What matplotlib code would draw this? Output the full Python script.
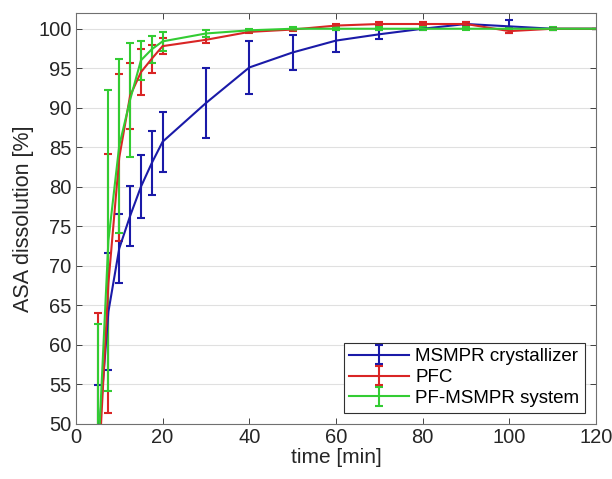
import matplotlib
matplotlib.use("Agg")
import matplotlib.pyplot as plt

plt.rcParams['font.family'] = ['Liberation Sans', 'DejaVu Sans']

time = [5, 7.5, 10, 12.5, 15, 17.5, 20, 30, 40, 50, 60, 70, 80, 90, 100, 110, 120]

msmpr = [46.5, 64.2, 72.2, 76.3, 80.0, 83.0, 85.7, 90.6, 95.1, 97.0, 98.5, 99.3, 100.0, 100.6, 100.3, 100.0, 100.0]
msmpr_err = [8.4, 7.4, 4.4, 3.8, 4.0, 4.0, 3.8, 4.4, 3.4, 2.2, 1.4, 0.6, 0.2, 0.3, 0.8, 0.1, 0.0]

pfc = [41.6, 67.8, 83.7, 91.5, 94.5, 96.2, 97.8, 98.6, 99.6, 99.9, 100.4, 100.6, 100.6, 100.6, 99.7, 100.0, 100.0]
pfc_err = [22.4, 16.4, 10.6, 4.2, 2.9, 1.8, 1.0, 0.4, 0.2, 0.2, 0.2, 0.2, 0.2, 0.2, 0.2, 0.1, 0.0]

pfmsmpr = [44.2, 73.2, 85.2, 91.0, 96.0, 97.4, 98.4, 99.4, 99.8, 100.0, 100.0, 100.0, 100.0, 100.0, 100.0, 100.0, 100.0]
pfmsmpr_err = [18.5, 19.0, 11.0, 7.2, 2.5, 1.7, 1.2, 0.4, 0.2, 0.2, 0.2, 0.2, 0.2, 0.2, 0.2, 0.2, 0.0]

labels = ['MSMPR crystallizer', 'PFC', 'PF-MSMPR system']
colors = ['#1a1aa8', '#d92525', '#33cc33']

fig = plt.figure(figsize=(6.12, 4.79), dpi=100)
ax = fig.add_axes([0.124, 0.115, 0.850, 0.858])

for y, e, c, lab in zip([msmpr, pfc, pfmsmpr], [msmpr_err, pfc_err, pfmsmpr_err], colors, labels):
    ax.errorbar(time, y, yerr=e, color=c, lw=1.5, elinewidth=1.5, capsize=3,
                capthick=1.5, label=lab, clip_on=True)

ax.set_xlim(0, 120)
ax.set_ylim(50, 102)
ax.set_xticks(range(0, 121, 20))
ax.set_yticks(range(50, 101, 5))
ax.yaxis.grid(True, color='#e0e0e0', lw=0.8)
ax.set_axisbelow(True)
ax.tick_params(direction='in', top=True, right=True, labelsize=14.5, colors='#262626',
               length=4, width=0.6, pad=3)
for sp in ax.spines.values():
    sp.set_color('#707070')
    sp.set_linewidth(0.8)
ax.set_xlabel('time [min]', fontsize=15, color='#262626', labelpad=1)
ax.set_ylabel('ASA dissolution [%]', fontsize=15.5, color='#262626', labelpad=3)

leg = ax.legend(loc='lower right', fontsize=13.5, frameon=True, fancybox=False,
                edgecolor='#303030', framealpha=1, handlelength=3.2,
                borderaxespad=0.6, borderpad=0.3, labelspacing=0.2, handletextpad=0.3)
leg.get_frame().set_linewidth(0.8)

fig.savefig('out.png', dpi=100)
